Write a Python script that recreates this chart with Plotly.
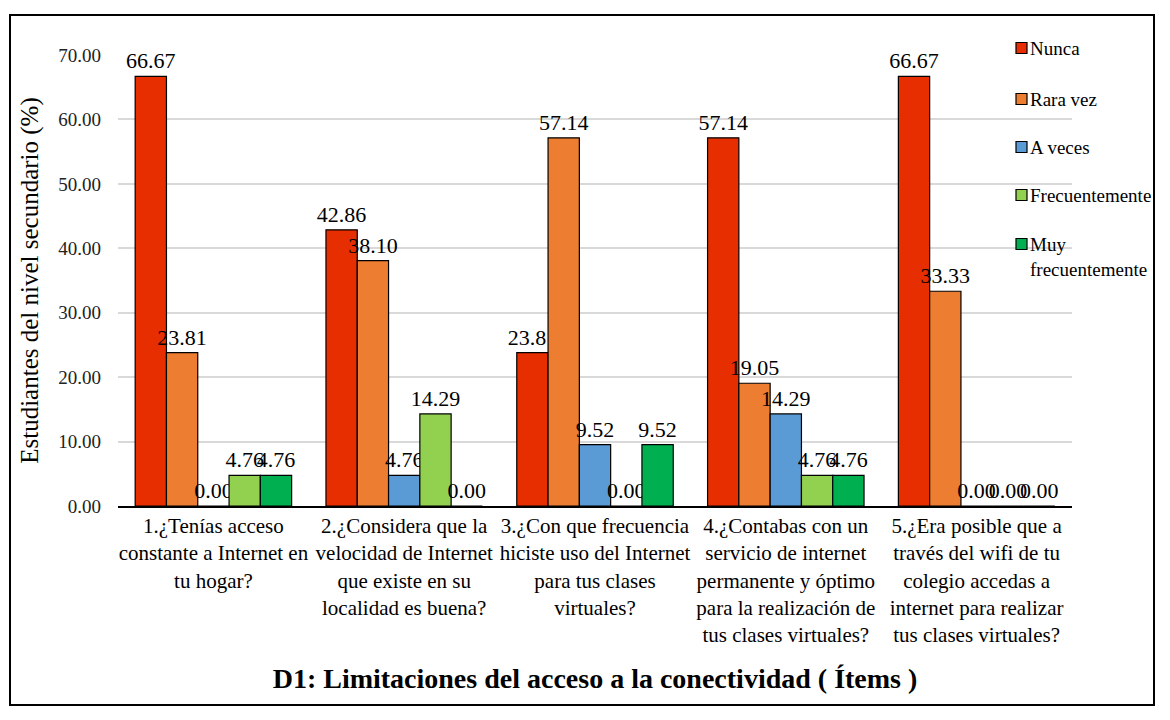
import plotly.graph_objects as go

items = [
    "1.¿Tenías acceso<br>constante a Internet en<br>tu hogar?",
    "2.¿Considera que la<br>velocidad de Internet<br>que existe en su<br>localidad es buena?",
    "3.¿Con que frecuencia<br>hiciste uso del Internet<br>para tus clases<br>virtuales?",
    "4.¿Contabas con un<br>servicio de internet<br>permanente y óptimo<br>para la realización de<br>tus clases virtuales?",
    "5.¿Era posible que a<br>través del wifi de tu<br>colegio accedas a<br>internet para realizar<br>tus clases virtuales?",
]

nunca = [66.67, 42.86, 23.81, 57.14, 66.67]
rara_vez = [23.81, 38.10, 57.14, 19.05, 33.33]
a_veces = [0.00, 4.76, 9.52, 14.29, 0.00]
frecuentemente = [4.76, 14.29, 0.00, 4.76, 0.00]
muy_frecuentemente = [4.76, 0.00, 9.52, 4.76, 0.00]

series = [
    ("Nunca", nunca, "#E62E00"),
    ("Rara vez", rara_vez, "#ED7D31"),
    ("A veces", a_veces, "#5B9BD5"),
    ("Frecuentemente", frecuentemente, "#92D050"),
    ("Muy<br>frecuentemente", muy_frecuentemente, "#00B050"),
]

FONT = "Liberation Serif"

# page body adds an 8px margin on every side; keep the figure small enough
# that the browser shows no scrollbars
W, H = 1150, 700
L, R, T, B = 110, 86, 47, 202
PW, PH = W - L - R, H - T - B


def px(x):
    return (x - L) / PW


def py(y):
    return (H - B - y) / PH


fig = go.Figure()
for i, (name, vals, color) in enumerate(series):
    fig.add_trace(go.Bar(
        x=items, y=vals, name=name, showlegend=False,
        marker=dict(color=color, line=dict(color="black", width=1.2)),
        texttemplate="%{y:.2f}", textposition="outside", textangle=0,
        constraintext="none",
        textfont=dict(size=22, color="black", family=FONT),
        cliponaxis=False,
    ))

fig.update_layout(
    width=W, height=H,
    margin=dict(l=L, r=R, t=T, b=B),
    paper_bgcolor="white", plot_bgcolor="white",
    font=dict(family=FONT, color="black"),
    barmode="group", bargap=0.18, bargroupgap=0,
)

fig.update_yaxes(
    range=[0, 70], dtick=10, tickformat=".2f", automargin=False,
    showgrid=True, gridcolor="#D9D9D9", gridwidth=1.5,
    zeroline=False, ticks="", ticklabelstandoff=16,
    tickfont=dict(size=19, family=FONT, color="#222"),
    title=dict(text="Estudiantes del nivel secundario (%)",
               font=dict(size=25, family=FONT), standoff=12),
)
fig.update_xaxes(
    showline=True, linecolor="black", linewidth=1.5, ticks="", tickangle=0,
    automargin=False,
    tickfont=dict(size=21, family=FONT),
    title=dict(text="<b>D1: Limitaciones del acceso a la conectividad ( Ítems )</b>",
               font=dict(size=28, family=FONT), standoff=22),
)

# legend drawn by hand so it can sit over the plot's right edge like the original
legend_y = [40, 91, 139, 187, 236]
for (name, vals, color), ly in zip(series, legend_y):
    fig.add_shape(type="rect", xref="paper", yref="paper",
                  x0=px(1008), x1=px(1019), y0=py(ly + 5.5), y1=py(ly - 5.5),
                  fillcolor=color, line=dict(color="black", width=1.2))
    fig.add_annotation(xref="paper", yref="paper", x=px(1020), y=py(ly - 12),
                       xanchor="left", yanchor="top", align="left",
                       showarrow=False, text=name,
                       font=dict(size=19, family=FONT, color="black"))

fig.add_shape(type="rect", xref="paper", yref="paper",
              x0=px(2), x1=px(1146), y0=py(697), y1=py(7),
              line=dict(color="black", width=2))

fig.write_html("out.html")
